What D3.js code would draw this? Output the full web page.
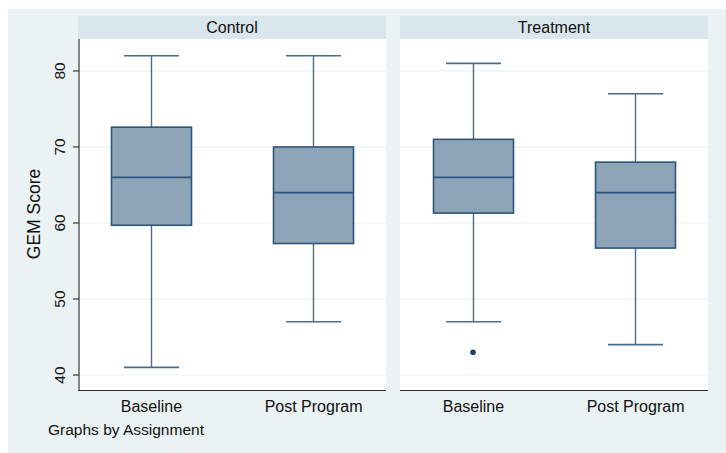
<!DOCTYPE html>
<html>
<head>
<meta charset="utf-8">
<script src="https://cdn.jsdelivr.net/npm/d3@7"></script>
<style>
  body { margin: 0; background: #fff; }
  text { font-family: Arial, "Liberation Sans", sans-serif; fill: #111; }
</style>
</head>
<body>
<svg id="chart" width="726" height="453"></svg>
<script>
// panels and categories
const panels = ["Control", "Treatment"];
const categories = ["Baseline", "Post Program"];

// five-number summaries per panel, in category order
const whiskerLow  = [[41, 47], [47, 44]];
const q1          = [[59.7, 57.3], [61.3, 56.7]];
const median      = [[66, 64], [66, 64]];
const q3          = [[72.6, 70], [71, 68]];
const whiskerHigh = [[82, 82], [81, 77]];

// outliers: [panel, category, value]
const outliers = [[1, 0, 43]];

const yTicks = [40, 50, 60, 70, 80];

const svg = d3.select("#chart");
const W = 726, H = 453;
const font = "Arial, 'Liberation Sans', sans-serif";

// outer background
svg.append("rect").attr("x", 8).attr("y", 9).attr("width", W - 8).attr("height", H - 9)
  .attr("fill", "#eaf2f3");

const plotTop = 39, plotBottom = 390;
const panelX = [[78, 386], [400, 708]];

const y = d3.scaleLinear().domain([38.03, 84.2]).range([plotBottom, plotTop]);

panels.forEach((name, p) => {
  const [x0, x1] = panelX[p];
  const g = svg.append("g");

  // strip header
  g.append("rect").attr("x", x0).attr("y", 16).attr("width", x1 - x0).attr("height", plotTop - 16)
    .attr("fill", "#d9e6eb");
  g.append("text").attr("x", (x0 + x1) / 2).attr("y", 33).attr("text-anchor", "middle")
    .style("font-size", "16px").text(name);

  // plot area
  g.append("rect").attr("x", x0).attr("y", plotTop).attr("width", x1 - x0).attr("height", plotBottom - plotTop)
    .attr("fill", "#fff");

  // grid
  g.selectAll(".grid").data(yTicks).enter().append("line")
    .attr("x1", x0).attr("x2", x1)
    .attr("y1", d => y(d)).attr("y2", d => y(d))
    .attr("stroke", "#eaf1f4").attr("stroke-width", 1.2);

  const x = d3.scalePoint().domain(categories).range([x0, x1]).padding(0.45);
  const boxW = 80, capW = 55;

  // x axis
  const xa = g.append("g").attr("transform", "translate(0," + plotBottom + ")")
    .call(d3.axisBottom(x).tickSize(0).tickPadding(11));
  xa.select(".domain").remove();
  xa.selectAll("text").style("font-size", "16px").attr("fill", "#111")
    .style("font-family", font);
  g.append("line").attr("x1", x0).attr("x2", x1).attr("y1", plotBottom + 0.5).attr("y2", plotBottom + 0.5)
    .attr("stroke", "#333").attr("stroke-width", 1.2);

  // y axis on first panel only
  if (p === 0) {
    const ya = g.append("g").attr("transform", "translate(" + (x0 + 1) + ",0)")
      .call(d3.axisLeft(y).tickValues(yTicks).tickSize(6).tickPadding(12));
    ya.select(".domain").remove();
    ya.selectAll(".tick").attr("transform", null);
    ya.selectAll(".tick line").attr("stroke", "#333").attr("stroke-width", 1.2)
      .attr("y1", d => y(d)).attr("y2", d => y(d));
    ya.selectAll(".tick text")
      .style("font-size", "15.5px").attr("fill", "#111")
      .style("font-family", font)
      .attr("text-anchor", "middle")
      .attr("x", -19.5).attr("y", d => y(d)).attr("dy", "0.35em")
      .attr("transform", d => "rotate(-90," + (-19.5) + "," + y(d) + ")");
    g.append("line").attr("x1", x0 + 1).attr("x2", x0 + 1).attr("y1", plotTop).attr("y2", plotBottom)
      .attr("stroke", "#333").attr("stroke-width", 1.2);
  }

  categories.forEach((c, i) => {
    const cx = Math.round(x(c)) + 0.5;
    // whiskers
    g.append("line").attr("x1", cx).attr("x2", cx).attr("y1", y(whiskerHigh[p][i])).attr("y2", y(q3[p][i]))
      .attr("stroke", "#4b6b8b").attr("stroke-width", 1.4);
    g.append("line").attr("x1", cx).attr("x2", cx).attr("y1", y(q1[p][i])).attr("y2", y(whiskerLow[p][i]))
      .attr("stroke", "#4b6b8b").attr("stroke-width", 1.4);
    [whiskerHigh[p][i], whiskerLow[p][i]].forEach(v => {
      g.append("line").attr("x1", cx - capW / 2).attr("x2", cx + capW / 2).attr("y1", y(v)).attr("y2", y(v))
        .attr("stroke", "#4b6b8b").attr("stroke-width", 1.6);
    });
    // box
    g.append("rect").attr("x", cx - boxW / 2).attr("y", y(q3[p][i]))
      .attr("width", boxW).attr("height", y(q1[p][i]) - y(q3[p][i]))
      .attr("fill", "#8da3b7").attr("stroke", "#2e5679").attr("stroke-width", 1.6);
    g.append("line").attr("x1", cx - boxW / 2).attr("x2", cx + boxW / 2)
      .attr("y1", y(median[p][i])).attr("y2", y(median[p][i]))
      .attr("stroke", "#2e5679").attr("stroke-width", 1.8);
  });

  outliers.filter(o => o[0] === p).forEach(o => {
    g.append("circle").attr("cx", Math.round(x(categories[o[1]]))).attr("cy", y(o[2])).attr("r", 2.8)
      .attr("fill", "#1f3f66");
  });
});

// y axis title
svg.append("text").attr("transform", "translate(40,214) rotate(-90)").attr("text-anchor", "middle")
  .style("font-size", "17.5px").text("GEM Score");

// note
svg.append("text").attr("x", 48).attr("y", 435).style("font-size", "15.5px").text("Graphs by Assignment");
</script>
</body>
</html>
